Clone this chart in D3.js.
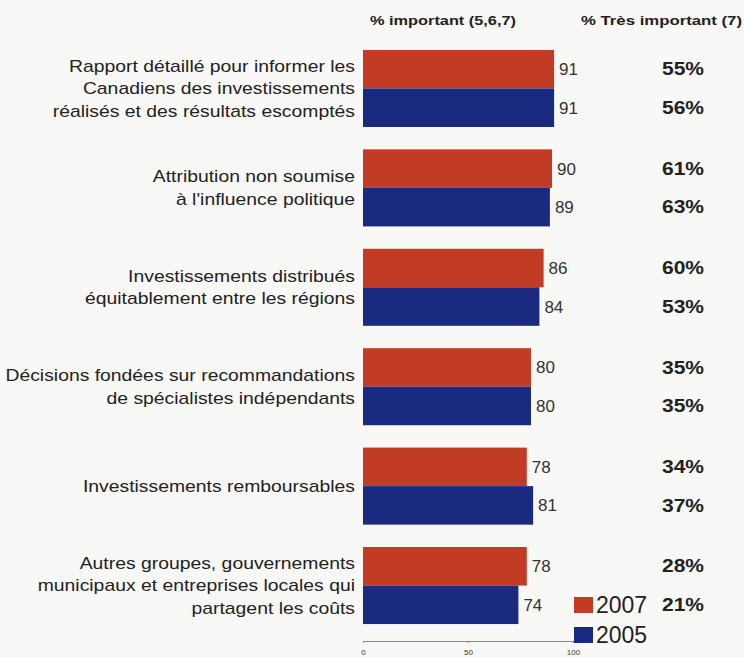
<!DOCTYPE html>
<html><head><meta charset="utf-8">
<script src="https://cdn.jsdelivr.net/npm/d3@7"></script>
<style>
html,body{margin:0;padding:0;background:#f8f8f6;}
svg{display:block;font-family:"Liberation Sans",Arial,sans-serif;}
</style></head>
<body>
<svg id="chart" width="744" height="657"></svg>
<script>
const categories = [
  ["Rapport détaillé pour informer les","Canadiens des investissements","réalisés et des résultats escomptés"],
  ["Attribution non soumise","à l'influence politique"],
  ["Investissements distribués","équitablement entre les régions"],
  ["Décisions fondées sur recommandations","de spécialistes indépendants"],
  ["Investissements remboursables"],
  ["Autres groupes, gouvernements","municipaux et entreprises locales qui","partagent les coûts"]
];
const series = ["2007","2005"];
const values2007 = [91, 90, 86, 80, 78, 78];
const values2005 = [91, 89, 84, 80, 81, 74];
const tres2007 = ["55%","61%","60%","35%","34%","28%"];
const tres2005 = ["56%","63%","53%","35%","37%","21%"];
const xTicks = [0, 50, 100];
const headers = ["% important (5,6,7)", "% Très important (7)"];

const colors = {"2007":"#c13b25","2005":"#1a2a80"};
const svg = d3.select("#chart");

const x = d3.scaleLinear().domain([0,100]).range([363,573]);
const y0 = d3.scaleBand().domain(d3.range(categories.length)).range([40,634]).paddingInner(0.225).paddingOuter(0.1);
const y1 = d3.scaleBand().domain(series).range([0,y0.bandwidth()]);

const data = categories.map((c,i)=>({i, lab:c, v:{"2007":values2007[i],"2005":values2005[i]}, t:{"2007":tres2007[i],"2005":tres2005[i]}}));

// headers
svg.append("text").attr("x",370).attr("y",25).attr("font-size",12).attr("font-weight","bold").attr("fill","#222")
  .attr("textLength",146).attr("lengthAdjust","spacingAndGlyphs").text(headers[0]);
svg.append("text").attr("x",581).attr("y",25).attr("font-size",12).attr("font-weight","bold").attr("fill","#222")
  .attr("textLength",161).attr("lengthAdjust","spacingAndGlyphs").text(headers[1]);

const g = svg.selectAll("g.grp").data(data).join("g").attr("class","grp")
  .attr("transform",d=>`translate(0,${y0(d.i)})`);

g.selectAll("rect").data(d=>series.map(s=>({s,v:d.v[s]}))).join("rect")
  .attr("x",x(0)).attr("y",d=>y1(d.s)).attr("width",d=>x(d.v)-x(0)).attr("height",y1.bandwidth())
  .attr("fill",d=>colors[d.s]);

g.selectAll("text.val").data(d=>series.map(s=>({s,v:d.v[s]}))).join("text").attr("class","val")
  .attr("x",d=>x(d.v)+5).attr("y",d=>y1(d.s)+y1.bandwidth()/2).attr("dy","0.35em")
  .attr("font-size",17).attr("fill","#333").text(d=>d.v);

g.selectAll("text.tres").data(d=>series.map(s=>({s,t:d.t[s]}))).join("text").attr("class","tres")
  .attr("transform",d=>`translate(662,${y1(d.s)+y1.bandwidth()/2}) scale(1.2,1)`)
  .attr("dy","0.35em")
  .attr("font-size",17.5).attr("font-weight","bold").attr("fill","#222").text(d=>d.t);

g.each(function(d){
  const n = d.lab.length, lh = 22.5;
  const cy = y0.bandwidth()/2;
  d3.select(this).selectAll("text.cat").data(d.lab).join("text").attr("class","cat")
    .attr("transform",(t,j)=>`translate(355,${cy + (j-(n-1)/2)*lh}) scale(1.21,1)`)
    .attr("text-anchor","end").attr("dy","0.35em")
    .attr("font-size",16).attr("fill","#222").text(t=>t);
});

// axis
const axis = d3.axisBottom(x).tickValues(xTicks).tickSize(2).tickPadding(6);
const ax = svg.append("g").attr("transform","translate(0,641)").call(axis);
ax.select(".domain").attr("stroke","#888").attr("stroke-width",1);
ax.selectAll(".tick line").attr("stroke","#888");
ax.selectAll(".tick text").attr("font-size",8).attr("fill","#333").attr("font-family","Liberation Sans, Arial, sans-serif");

// legend
const lg = svg.append("g").selectAll("g").data(series).join("g")
  .attr("transform",(d,i)=>`translate(574,${597+i*30})`);
lg.append("rect").attr("width",19).attr("height",16).attr("fill",d=>colors[d]);
lg.append("text").attr("x",22).attr("y",8).attr("dy","0.36em").attr("font-size",23).attr("fill","#222").text(d=>d);
</script>
</body></html>
